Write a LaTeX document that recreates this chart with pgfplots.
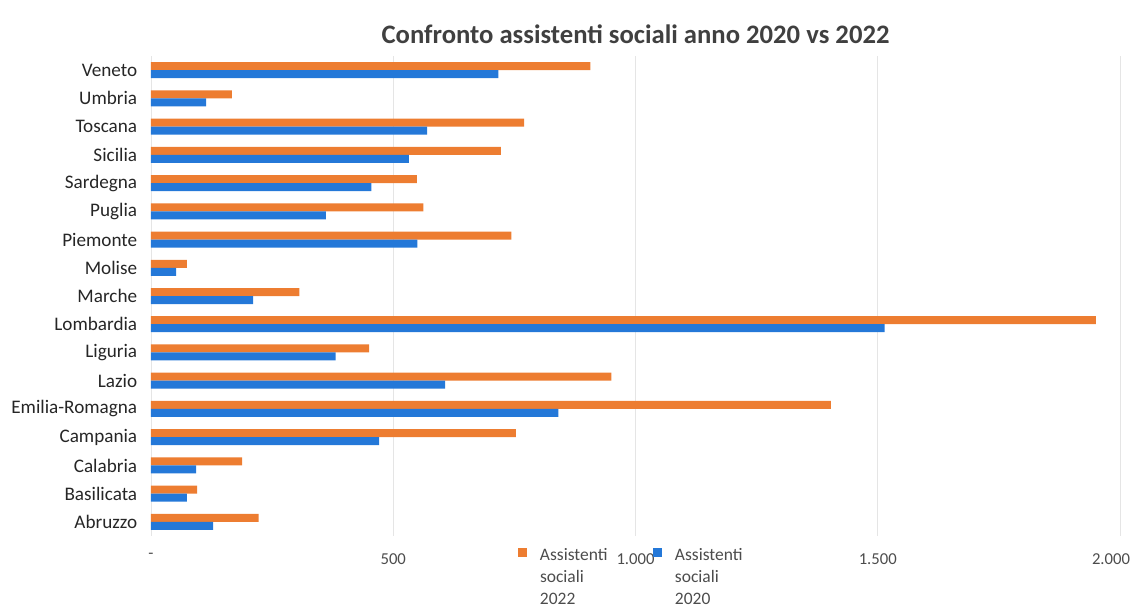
\documentclass[border=0pt]{standalone}
\usepackage{pgfplots}
\pgfplotsset{compat=1.18}
\usepackage{pgfplotstable}
\usepackage{fontspec}
\setmainfont{Carlito}
\definecolor{or}{HTML}{ED7D31}
\definecolor{bl}{HTML}{2478D8}
\definecolor{tx}{HTML}{404040}
\pgfplotstableread{
idx y2022 y2020
0 222 128
1 95 74
2 188 93
3 753 471
4 1403 841
5 950 607
6 450 381
7 1950 1514
8 306 211
9 74 52
10 744 550
11 562 361
12 549 455
13 722 532
14 770 570
15 167 114
16 907 717
}\datatable
\begin{document}
\begin{tikzpicture}
\useasboundingbox (-90.6pt,-43.2pt) rectangle (589.8pt,321.6pt);
\begin{axis}[
  at={(0,0)}, anchor=south west,
  scale only axis,
  width=581.4pt, height=288pt,
  xbar, bar width=4.8pt,
  xmin=0, xmax=2000,
  ymin=-0.5, ymax=16.5,
  ytick={0,...,16},
  yticklabels={Abruzzo,Basilicata,Calabria,Campania,Emilia-Romagna,Lazio,Liguria,Lombardia,Marche,Molise,Piemonte,Puglia,Sardegna,Sicilia,Toscana,Umbria,Veneto},
  xtick={0,500,1000,1500,2000},
  xticklabels={-,500,1.000,1.500,\hspace*{-10.8pt}2.000},
  axis line style={draw=none},
  tick style={draw=none},
  xmajorgrids, grid style={black!10},
  yticklabel style={font=\fontsize{11.5}{13}\selectfont, text=black!85, xshift=-0.5pt},
  xticklabel style={font=\fontsize{10}{12}\selectfont, text=black!70, yshift=-7pt},
  title={Confronto assistenti sociali anno 2020 vs 2022},
  title style={font=\bfseries\fontsize{16}{18}\selectfont, text=tx, yshift=-2pt},
  legend columns=2,
  legend style={draw=none, fill=none, inner sep=0pt, outer sep=0pt,
    at={(220.2pt,-7.2pt)}, anchor=north west,
    font=\fontsize{10.5}{13.3}\selectfont, text=black!70,
    column sep=0pt, row sep=0pt,
    nodes={inner sep=0pt, outer sep=0pt},
    cells={align=left, text width=67.8pt}},
  legend image code/.code={\fill[#1] (0pt,-0.8pt) rectangle (5.5pt,4.7pt); \path (13.2pt,0pt);},
]
\addplot[fill=or, draw=none, bar shift=2.4pt] table[x=y2022, y=idx] {\datatable};
\addlegendentry{Assistenti\\sociali\\2022}
\addplot[fill=bl, draw=none, bar shift=-2.4pt] table[x=y2020, y=idx] {\datatable};
\addlegendentry{Assistenti\\sociali\\2020}
\end{axis}
\end{tikzpicture}
\end{document}
